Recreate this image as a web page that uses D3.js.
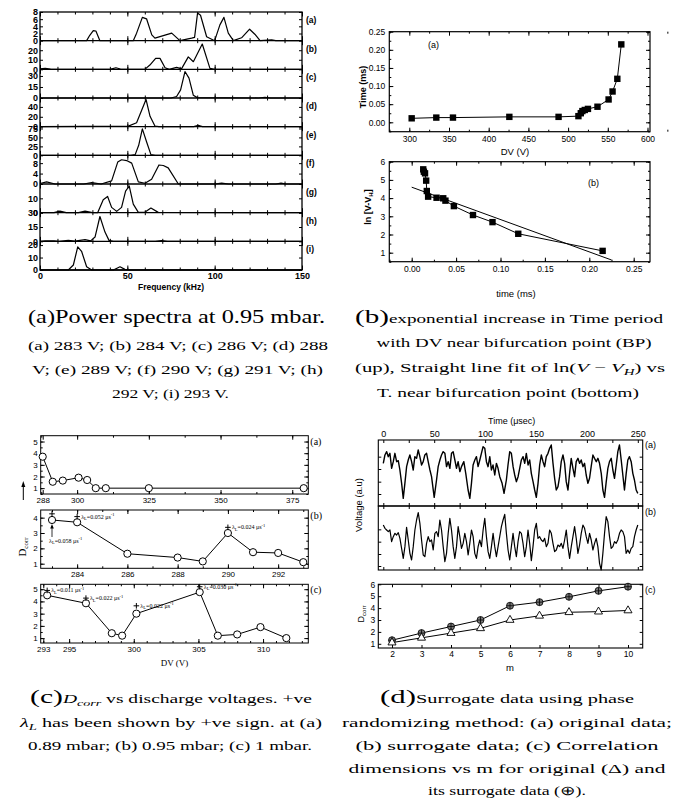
<!DOCTYPE html>
<html>
<head>
<meta charset="utf-8">
<script src="https://cdn.jsdelivr.net/npm/d3@7"></script>
<style>
body { margin: 0; background: #fff; }
svg { display: block; }
</style>
</head>
<body>
<div id="chart"></div>
<script>
// ---- panel (a): power spectra, [frequency kHz, amplitude] ----
const spectraNames = ['(a)', '(b)', '(c)', '(d)', '(e)', '(f)', '(g)', '(h)', '(i)'];
const spectraMax = [8, 30, 39, 58, 80, 11, 20, 30, 23];
const spectraTicks = [[0, 2, 4, 6, 8], [0, 10, 20], [0, 15, 30], [0, 20, 40], [0, 25, 50, 75], [0, 4, 8], [0, 10], [0, 15, 30], [0, 10, 20]];
const freqTicks = [0, 50, 100, 150];
const specA = [[0,0],[26.7,0],[28.5,1.5],[30.5,2.8],[32,2.7],[34.3,0],[53.4,0],[55.3,2.1],[58.6,6.5],[61,6.1],[64,1.6],[65.8,0.7],[75.4,2.1],[80.1,0],[86.8,0.7],[88.5,0.9],[90.2,7.7],[91.9,7.1],[95.4,1.1],[100,0],[103,4.4],[105.3,6.5],[107.8,2.1],[110.7,0],[115.4,0.8],[120,3.2],[123,1.8],[126,0],[132.6,0.2],[135,0],[150,0]];
const specB = [[0,0.5],[3,1],[6,0.3],[10,0],[40,0],[43.5,1.7],[46,0.3],[60,0],[62.9,4.5],[66.2,11.5],[68.7,11.5],[71.6,1.7],[74,0],[78.2,2],[81,0.5],[84.9,13],[87.8,8],[92.9,26.5],[97.3,1],[100,0],[150,0]];
const specC = [[0,0],[75,0],[78.2,2],[80.5,11],[83,36],[85.3,27],[87.8,3.6],[90,0.5],[125,0],[128.8,0.8],[132,0],[150,0]];
const specD = [[0,0],[50.6,1],[55.3,8],[60.7,55],[63,21],[65.8,1.3],[68,0],[88,0],[90.6,2.5],[93,0],[150,0]];
const specE = [[0,0],[52,0],[54.5,2],[56.5,28],[58.6,74],[61,38],[63.5,2],[66,0],[150,0]];
const specF = [[0,0.2],[3.8,0.8],[8.6,0],[25,0],[29.6,0.5],[35,0],[41,1.2],[44.5,8.4],[46.7,9.3],[49.6,9],[52.5,8],[56.3,0.8],[60.1,0.3],[63.9,1.8],[68.1,7.3],[70.6,7.1],[73.4,6.2],[79.2,0],[100,0],[104,0.3],[108,0],[135,0],[138,0.3],[141,0],[150,0]];
const specG = [[0,0],[8,0],[11.4,1.1],[15,0],[22,0],[25.8,1.1],[30,0],[33,0],[36.2,9],[38.7,11.3],[41,3.7],[43.9,0.9],[46.7,3.7],[49,15],[51.1,18.6],[53.4,6],[56.3,0.2],[60,0.3],[63.5,3.2],[67.7,0.2],[150,0]];
const specH = [[0,0],[3,0.5],[8,0.5],[11,0],[16.2,1],[20,0.3],[25.8,1.7],[29,0.5],[31.5,4.5],[34.3,26],[37.2,9.7],[39.5,1],[42,0],[66,0],[69.6,0.7],[73,0],[150,0]];
const specI = [[0,0],[16.2,0],[19.1,4],[21.6,18.5],[23.8,15],[26.7,2.6],[29.6,0],[42,0],[45.8,2.6],[48.6,0.5],[51,0],[150,0]];
const spectra = [specA, specB, specC, specD, specE, specF, specG, specH, specI];

// ---- panel (b): time period vs DV, ln(V-VH) vs time ----
const dvValues = [303, 334, 355, 426, 488, 513, 516, 518, 521, 525, 537, 551, 556, 562, 567];
const periodValues = [0.011, 0.013, 0.013, 0.015, 0.015, 0.017, 0.025, 0.031, 0.034, 0.037, 0.043, 0.063, 0.085, 0.12, 0.215];
const dvTicks = [300, 350, 400, 450, 500, 550, 600];
const periodTicks = [0, 0.05, 0.1, 0.15, 0.2, 0.25];
const lnTime = [0.013, 0.0137, 0.015, 0.0163, 0.017, 0.0185, 0.028, 0.0355, 0.038, 0.0475, 0.069, 0.091, 0.12, 0.215];
const lnValues = [5.58, 5.45, 5.36, 4.96, 4.39, 4.08, 4.02, 3.99, 3.86, 3.56, 3.07, 2.68, 2.04, 1.1];
const fitTime = [0, 0.225];
const fitLn = [4.6, 0.6];
const lnTicks = [1, 2, 3, 4, 5, 6];

// ---- panel (c): Dcorr vs discharge voltage ----
const dcorrAV = [288, 291.5, 295, 300.5, 303.5, 306.5, 310, 325, 379];
const dcorrA = [3.7, 1.55, 1.65, 1.9, 1.7, 1.0, 1.0, 1.0, 1.0];
const dcorrBV = [283, 284, 286, 288, 289, 290, 291, 292, 293];
const dcorrB = [3.85, 3.7, 1.65, 1.4, 1.15, 3.0, 1.75, 1.7, 1.1];
const dcorrCV = [293.3, 296.3, 298.3, 299.1, 300.2, 305.1, 306.5, 308, 309.8, 311.8];
const dcorrC = [4.5, 3.85, 1.4, 1.2, 3.0, 4.76, 1.2, 1.3, 1.9, 1.0];
const dvTicksA = [288, 300, 325, 350, 375];
const dvTicksB = [284, 286, 288, 290, 292];
const dvTicksC = [293, 295, 300, 305, 310];
// lyapunov marks: [voltage, height of +, label]
const lyapB = [[283, 4.25, '0.058'], [284, 4.07, '0.052'], [290, 3.37, '0.024']];
const lyapC = [[293.3, 4.9, '0.011'], [296.3, 4.27, '0.022'], [300.2, 3.64, '0.022'], [305.1, 5.2, '0.030']];

// ---- panel (d): original / surrogate signal, Dcorr vs m ----
const timeTicks = [0, 50, 100, 150, 200, 250];
const originalSignal = [[0,13],[1.6,15.5],[3.3,16.5],[4.9,15],[6.5,16],[8.2,11.5],[9.8,13.5],[11.4,16],[13.1,13.5],[14.7,13.8],[16.3,11],[18,7],[19.6,2.5],[21.2,7],[22.9,12],[24.5,14],[26.1,15.5],[27.8,13.5],[29.4,11],[31,15],[32.7,14.5],[34.3,17],[35.9,15],[37.6,12.5],[39.2,13.5],[40.8,15.5],[42.5,16],[44.1,13.5],[45.8,11],[47.4,9],[50,2.8],[52.3,8],[53.9,12],[55.6,14],[57.2,15.5],[58.8,16.5],[60.5,16],[62.1,12],[63.7,13.5],[65.4,11.5],[67,16],[68.6,16.5],[70.3,14],[71.9,11.5],[73.5,13.5],[75.2,10.5],[76.8,12],[79.1,13.5],[81,10],[83.3,5],[85,2.5],[86.6,7],[88.2,12.5],[89.9,14],[91.5,15],[93.1,12],[94.8,14],[98,18],[99.7,17.5],[101.3,13.5],[102.9,12],[104.6,15],[106.2,11],[107.8,12.5],[109.5,9.5],[111.1,13],[112.7,11.5],[114.4,9],[116.7,7],[118.6,4],[120.9,8],[122.5,12.5],[124.2,16.5],[125.8,16],[127.5,12],[129.1,9.5],[130.7,7.5],[132.4,9],[134,11.5],[135.6,14],[137.3,15],[138.9,13],[140.5,16],[142.2,12.5],[143.8,14],[145.4,10],[147.1,7.5],[148.7,5],[150.3,2.8],[152,7],[153.6,12.5],[155.2,15.5],[156.9,13.5],[158.5,12],[160.1,15],[161.8,16],[163.4,17.5],[165,18.5],[166.7,13],[168.3,8.5],[169.9,5],[171.6,6],[173.2,9],[174.8,13.5],[176.5,15.5],[178.1,13],[179.7,7.5],[181.4,5],[183,10],[184.6,14.5],[186.3,11.5],[187.9,9],[189.5,13.5],[191.2,14.5],[192.8,13],[194.4,14],[196.1,12],[197.7,13],[199.3,9.5],[201,7],[202.6,8.5],[204.2,12],[205.9,15.5],[207.5,14.5],[209.2,13.5],[210.8,14.5],[212.4,13],[214.1,10],[215.7,5],[217.3,2.8],[219,7.5],[220.6,11.5],[222.2,13.5],[223.9,14.5],[225.5,11],[227.1,8.5],[228.8,12.5],[230.4,16.5],[232,18.5],[233.7,14],[235.3,9.5],[236.9,5],[238.6,10],[240.2,14],[241.8,15],[243.5,13.5],[245.1,10],[246.7,8],[248.4,5],[250,4]];
const surrogateStep = 1.634; // us between read samples
const surrogateSignal = [13.5,12.5,12,11.5,12,8.5,10,11,10.5,11.2,9.5,6.5,3.5,7,12.8,9,5,3,7,12,15,17.2,14,9,4.5,4,8,10,8.5,9,6,11,11.5,10,15,12,7,2.5,5,11,15.5,12,7,3.5,7,13,10,6.5,8,11,8.5,4.5,8,12,10,5,3.5,7,9,7,12,15.5,10,5.5,3.5,7,11,7,4,7,10,13,15,16.7,11,6,3,7,11,7,4,8.5,11.5,11,8,4,7,12,8,2.8,7,12,14,9.5,10,9,8.5,9.5,7,8,12,11,8,5.5,6,7.5,7,8,6.5,9,12,7,3.5,7,10,13,9.5,5,7.5,11,13.5,12.5,10,8,11,9,6,8,9.5,7,2,0,5,11,16,14.5,10,6.5,7,8.5,8,9,11,12,11.5,10,5,6,5,6.5,7,10,12,13.5];
const mValues = [2, 3, 4, 5, 6, 7, 8, 9, 10];
const dcorrSurrogate = [1.3, 1.9, 2.45, 3.0, 4.2, 4.5, 4.95, 5.45, 5.8];
const dcorrOriginal = [1.1, 1.5, 1.9, 2.3, 3.0, 3.35, 3.65, 3.7, 3.8];
const dcorrMTicks = [1, 2, 3, 4, 5, 6];

const SANS = "'Liberation Sans', Arial, sans-serif";
const SERIF = "'Liberation Serif', 'Times New Roman', serif";
const intFmt = d3.format('d');

const svg = d3.select('#chart').append('svg')
    .attr('width', 678)
    .attr('height', 800);

function tidy(g, opt) {
    opt = opt || {};
    g.attr('font-family', null).attr('font-size', null);
    g.select('.domain').remove();
    g.selectAll('.tick line').attr('stroke', '#000').attr('stroke-width', opt.sw || 1);
    g.selectAll('.tick text')
        .attr('fill', '#000')
        .style('font-family', opt.font || SANS)
        .style('font-size', (opt.size || 9) + 'px')
        .style('font-weight', opt.weight || 'normal');
    return g;
}

function axis(parent, gen, tx, ty, opt) {
    const g = parent.append('g')
        .attr('transform', `translate(${tx},${ty})`)
        .call(gen);
    return tidy(g, opt);
}

function frame(parent, x0, y0, x1, y1, sw) {
    parent.append('rect')
        .attr('x', x0).attr('y', y0)
        .attr('width', x1 - x0).attr('height', y1 - y0)
        .attr('fill', 'none').attr('stroke', '#000').attr('stroke-width', sw || 1);
}

function caption(parent, cx, y, parts, size, width) {
    const t = parent.append('text')
        .attr('x', cx).attr('y', y)
        .attr('text-anchor', 'middle')
        .style('font-family', SERIF)
        .style('font-size', size + 'px')
        .attr('textLength', width)
        .attr('lengthAdjust', 'spacingAndGlyphs');
    parts.forEach(p => {
        const s = t.append('tspan').text(p.t);
        if (p.size) s.style('font-size', p.size + 'px');
        if (p.it) s.style('font-style', 'italic');
        if (p.dy) s.attr('dy', p.dy);
    });
    return t;
}

// lambda label: λL=0.052 μs-1
function lambdaLabel(parent, x, y, val) {
    const t = parent.append('text').attr('x', x).attr('y', y)
        .style('font-family', SERIF).style('font-size', '6px');
    t.append('tspan').text('λ');
    t.append('tspan').text('L').attr('dy', 1.5).style('font-size', '4.5px');
    t.append('tspan').text('=' + val + ' μs').attr('dy', -1.5);
    t.append('tspan').text('-1').attr('dy', -2.5).style('font-size', '4.5px');
}

function plusMark(parent, x, y, s) {
    parent.append('path')
        .attr('d', `M${x - s},${y}H${x + s}M${x},${y - s}V${y + s}`)
        .attr('stroke', '#000').attr('stroke-width', 1);
}

// =================== (a) power spectra ===================
const gA = svg.append('g');
const fx = d3.scaleLinear().domain([0, 150]).range([40, 302]);
const rowTop = 12, rowBot = 270, rowH = (rowBot - rowTop) / 9;
const minorFreq = d3.range(0, 151, 10);

spectra.forEach((s, i) => {
    const top = rowTop + i * rowH, bot = top + rowH;
    const fy = d3.scaleLinear().domain([0, spectraMax[i]]).range([bot, top]);
    gA.append('path').datum(s)
        .attr('fill', 'none').attr('stroke', '#000').attr('stroke-width', 1.2)
        .attr('stroke-linejoin', 'round')
        .attr('d', d3.line().x(d => fx(d[0])).y(d => fy(d[1])));
    axis(gA, d3.axisLeft(fy).tickValues(spectraTicks[i]).tickSize(-3).tickPadding(2).tickSizeOuter(0).tickFormat(intFmt), 40, 0,
        { size: 9, weight: 'bold' });
    axis(gA, d3.axisRight(fy).tickValues(spectraTicks[i]).tickSize(-3).tickSizeOuter(0).tickFormat(''), 302, 0);
    gA.append('text').attr('x', 306).attr('y', top + 11)
        .style('font-family', SANS).style('font-size', '8.5px').style('font-weight', 'bold')
        .text(spectraNames[i]);
    // ticks along the floor of each row, reaching into both rows
    axis(gA, d3.axisBottom(fx).tickValues(minorFreq).tickSize(-2.5).tickSizeOuter(0).tickFormat(''), 0, bot);
    axis(gA, d3.axisBottom(fx).tickValues(freqTicks).tickSize(-4.5).tickSizeOuter(0).tickFormat(''), 0, bot);
    if (i < 8) {
        axis(gA, d3.axisBottom(fx).tickValues(minorFreq).tickSize(2.5).tickSizeOuter(0).tickFormat(''), 0, bot);
        axis(gA, d3.axisBottom(fx).tickValues(freqTicks).tickSize(4.5).tickSizeOuter(0).tickFormat(''), 0, bot);
    }
    gA.append('line').attr('x1', 40).attr('x2', 302).attr('y1', bot).attr('y2', bot)
        .attr('stroke', '#000').attr('stroke-width', 1.3);
});
axis(gA, d3.axisBottom(fx).tickValues(minorFreq).tickSize(2.5).tickSizeOuter(0).tickFormat(''), 0, rowTop);
axis(gA, d3.axisBottom(fx).tickValues(freqTicks).tickSize(4.5).tickSizeOuter(0).tickFormat(''), 0, rowTop);
axis(gA, d3.axisBottom(fx).tickValues(freqTicks).tickSize(0).tickPadding(3), 0, rowBot, { size: 9, weight: 'bold' });
frame(gA, 40, rowTop, 302, rowBot, 1.3);
gA.append('text').attr('x', 171).attr('y', 290).attr('text-anchor', 'middle')
    .style('font-family', SANS).style('font-size', '8.5px').style('font-weight', 'bold')
    .text('Frequency (kHz)');

// =================== (b) time period / ln fit ===================
const gB = svg.append('g');
const bL = 389.3, bR = 650;
const dvX = d3.scaleLinear().domain([300, 600]).range([409.3, 647.5]);
const perY = d3.scaleLinear().domain([0, 0.25]).range([122.3, 31.7]);
const upTop = 31.7, upBot = 131.7;
const dvMinor = d3.range(275, 626, 25);
const perMinor = d3.range(-0.025, 0.251, 0.025);

axis(gB, d3.axisBottom(dvX).tickValues(dvMinor).tickSize(-2).tickFormat(''), 0, upBot);
axis(gB, d3.axisBottom(dvX).tickValues(dvTicks).tickSize(-4).tickPadding(4).tickFormat(intFmt), 0, upBot, { size: 8.5 });
axis(gB, d3.axisTop(dvX).tickValues(dvMinor).tickSize(-2).tickFormat(''), 0, upTop);
axis(gB, d3.axisTop(dvX).tickValues(dvTicks).tickSize(-4).tickFormat(''), 0, upTop);
axis(gB, d3.axisLeft(perY).tickValues(perMinor).tickSize(-2).tickFormat(''), bL, 0);
axis(gB, d3.axisLeft(perY).tickValues(periodTicks).tickSize(-4).tickPadding(4).tickFormat(d3.format('.2f')), bL, 0, { size: 8.5 });
axis(gB, d3.axisRight(perY).tickValues(perMinor).tickSize(-2).tickFormat(''), bR, 0);
axis(gB, d3.axisRight(perY).tickValues(periodTicks).tickSize(-4).tickFormat(''), bR, 0);
frame(gB, bL, upTop, bR, upBot, 1.2);

const upPts = dvValues.map((v, i) => [v, periodValues[i]]);
gB.append('path').datum(upPts)
    .attr('fill', 'none').attr('stroke', '#000').attr('stroke-width', 1)
    .attr('d', d3.line().x(d => dvX(d[0])).y(d => perY(d[1])));
gB.selectAll('rect.up').data(upPts).enter().append('rect').attr('class', 'up')
    .attr('x', d => dvX(d[0]) - 3.2).attr('y', d => perY(d[1]) - 3.2)
    .attr('width', 6.4).attr('height', 6.4).attr('fill', '#000');
gB.append('text').attr('x', 428).attr('y', 48)
    .style('font-family', SANS).style('font-size', '9px').text('(a)');
gB.append('text').attr('transform', 'translate(366,87) rotate(-90)').attr('text-anchor', 'middle')
    .style('font-family', SANS).style('font-size', '9px').style('font-weight', 'bold').text('Time (ms)');
gB.append('text').attr('x', 515).attr('y', 155).attr('text-anchor', 'middle')
    .style('font-family', SANS).style('font-size', '9.5px').text('DV (V)');

// lower plot
const loTop = 161.7, loBot = 261.7;
const tX = d3.scaleLinear().domain([0, 0.25]).range([411.7, 633.7]);
const lnY = d3.scaleLinear().domain([1, 6]).range([252.7, 161.7]);
const tMinor = d3.range(-0.025, 0.26, 0.025);
const lnMinor = d3.range(0.5, 6.01, 0.5);
axis(gB, d3.axisBottom(tX).tickValues(tMinor).tickSize(-2).tickFormat(''), 0, loBot);
axis(gB, d3.axisBottom(tX).tickValues(periodTicks).tickSize(-4).tickPadding(4).tickFormat(d3.format('.2f')), 0, loBot, { size: 8.5 });
axis(gB, d3.axisTop(tX).tickValues(tMinor).tickSize(-2).tickFormat(''), 0, loTop);
axis(gB, d3.axisTop(tX).tickValues(periodTicks).tickSize(-4).tickFormat(''), 0, loTop);
axis(gB, d3.axisLeft(lnY).tickValues(lnMinor).tickSize(-2).tickFormat(''), bL, 0);
axis(gB, d3.axisLeft(lnY).tickValues(lnTicks).tickSize(-4).tickPadding(4).tickFormat(intFmt), bL, 0, { size: 8.5 });
axis(gB, d3.axisRight(lnY).tickValues(lnMinor).tickSize(-2).tickFormat(''), bR, 0);
axis(gB, d3.axisRight(lnY).tickValues(lnTicks).tickSize(-4).tickFormat(''), bR, 0);
frame(gB, bL, loTop, bR, loBot, 1.2);

const loPts = lnTime.map((t, i) => [t, lnValues[i]]);
gB.append('path').datum(loPts)
    .attr('fill', 'none').attr('stroke', '#000').attr('stroke-width', 1)
    .attr('d', d3.line().x(d => tX(d[0])).y(d => lnY(d[1])));
gB.append('path').datum(fitTime.map((t, i) => [t, fitLn[i]]))
    .attr('fill', 'none').attr('stroke', '#000').attr('stroke-width', 1)
    .attr('d', d3.line().x(d => tX(d[0])).y(d => lnY(d[1])));
gB.selectAll('rect.lo').data(loPts).enter().append('rect').attr('class', 'lo')
    .attr('x', d => tX(d[0]) - 3.2).attr('y', d => lnY(d[1]) - 3.2)
    .attr('width', 6.4).attr('height', 6.4).attr('fill', '#000');
gB.append('text').attr('x', 588).attr('y', 186)
    .style('font-family', SANS).style('font-size', '9px').text('(b)');
const lnLab = gB.append('text').attr('transform', 'translate(371,207) rotate(-90)').attr('text-anchor', 'middle')
    .style('font-family', SANS).style('font-size', '9px').style('font-weight', 'bold');
lnLab.append('tspan').text('ln [V-V');
lnLab.append('tspan').text('H').attr('dy', 2).style('font-size', '6px');
lnLab.append('tspan').text(']').attr('dy', -2);
gB.append('text').attr('x', 516).attr('y', 297).attr('text-anchor', 'middle')
    .style('font-family', SANS).style('font-size', '9.5px').text('time (ms)');

// =================== (c) Dcorr vs DV ===================
const gC = svg.append('g');
const cL = 40.7, cR = 308.3;
const cRows = [
    { top: 435.7, bot: 494, xd: [287.3, 380.6], yd: [0.5, 5.5], xt: dvTicksA, xm: d3.range(287.5, 380, 12.5), yt: [1, 2, 3, 4, 5], v: dcorrAV, d: dcorrA, name: '(a)' },
    { top: 510, bot: 568.3, xd: [282.55, 293.2], yd: [0.7, 4.5], xt: dvTicksB, xm: d3.range(283, 293.1, 1), yt: [1, 2, 3, 4], v: dcorrBV, d: dcorrB, name: '(b)' },
    { top: 584.3, bot: 643, xd: [292.8, 313.5], yd: [0.6, 5.4], xt: dvTicksC, xm: d3.range(293, 313.1, 1), yt: [1, 2, 3, 4, 5], v: dcorrCV, d: dcorrC, name: '(c)' }
];
const cScales = cRows.map(r => {
    const x = d3.scaleLinear().domain(r.xd).range([cL, cR]);
    const y = d3.scaleLinear().domain(r.yd).range([r.bot, r.top]);
    const ym = d3.range(Math.ceil(r.yd[0] * 2) / 2, r.yd[1], 0.5);
    axis(gC, d3.axisBottom(x).tickValues(r.xm).tickSize(-2).tickFormat(''), 0, r.bot);
    axis(gC, d3.axisBottom(x).tickValues(r.xt).tickSize(-4).tickPadding(3).tickFormat(intFmt), 0, r.bot, { size: 8 });
    axis(gC, d3.axisTop(x).tickValues(r.xm).tickSize(-2).tickFormat(''), 0, r.top);
    axis(gC, d3.axisTop(x).tickValues(r.xt).tickSize(-4).tickFormat(''), 0, r.top);
    axis(gC, d3.axisLeft(y).tickValues(ym).tickSize(-2).tickFormat(''), cL, 0);
    axis(gC, d3.axisLeft(y).tickValues(r.yt).tickSize(-4).tickPadding(3).tickFormat(intFmt), cL, 0, { size: 8 });
    axis(gC, d3.axisRight(y).tickValues(ym).tickSize(-2).tickFormat(''), cR, 0);
    axis(gC, d3.axisRight(y).tickValues(r.yt).tickSize(-4).tickFormat(''), cR, 0);
    frame(gC, cL, r.top, cR, r.bot, 1);
    const pts = r.v.map((v, i) => [v, r.d[i]]);
    gC.append('path').datum(pts)
        .attr('fill', 'none').attr('stroke', '#000').attr('stroke-width', 1)
        .attr('d', d3.line().x(d => x(d[0])).y(d => y(d[1])));
    gC.selectAll(null).data(pts).enter().append('circle')
        .attr('cx', d => x(d[0])).attr('cy', d => y(d[1])).attr('r', 3.6)
        .attr('fill', '#fff').attr('stroke', '#000').attr('stroke-width', 1);
    gC.append('text').attr('x', cR + 2).attr('y', r.top + 9)
        .style('font-family', SERIF).style('font-size', '10px').text(r.name);
    return { x, y };
});
// lyapunov marks row (b)
const sb = cScales[1];
lyapB.forEach((m, i) => {
    plusMark(gC, sb.x(m[0]), sb.y(m[1]), 2.8);
});
lambdaLabel(gC, sb.x(284) + 4, sb.y(4.07) + 2, lyapB[1][2]);
lambdaLabel(gC, sb.x(290) + 4, sb.y(3.37) + 2, lyapB[2][2]);
lambdaLabel(gC, sb.x(283) - 3, 542.5, lyapB[0][2]);
gC.append('path').attr('d', `M${sb.x(283)},537V526`).attr('stroke', '#000').attr('stroke-width', 0.8);
gC.append('path').attr('d', `M${sb.x(283) - 1.8},528.5L${sb.x(283)},524L${sb.x(283) + 1.8},528.5Z`).attr('fill', '#000');
// row (c)
const sc = cScales[2];
lyapC.forEach(m => {
    plusMark(gC, sc.x(m[0]), sc.y(m[1]), 2.8);
    lambdaLabel(gC, sc.x(m[0]) + 4, sc.y(m[1]) + 2, m[2]);
});
// D_corr y label with arrow
const dl = gC.append('text').attr('transform', 'translate(26,547) rotate(-90)').attr('text-anchor', 'middle')
    .style('font-family', SERIF).style('font-size', '11px');
dl.append('tspan').text('D');
dl.append('tspan').text('corr').attr('dy', 2).style('font-size', '7px');
gC.append('path').attr('d', 'M23.3,500V485').attr('stroke', '#000').attr('stroke-width', 1);
gC.append('path').attr('d', 'M21.3,487L23.3,481L25.3,487Z').attr('fill', '#000');
gC.append('text').attr('x', 174.5).attr('y', 666).attr('text-anchor', 'middle')
    .style('font-family', SERIF).style('font-size', '9px').text('DV (V)');

// =================== (d) surrogate data ===================
const gD = svg.append('g');
const dL = 378.3, dR = 642.7;
const tx = d3.scaleLinear().domain([0, 250]).range([383.3, 637.8]);
const aTop = 440, aBot = 506, bBot = 570;
const yA = d3.scaleLinear().domain([0.2, 20]).range([aBot, aTop]);
const yB = d3.scaleLinear().domain([0, 19.2]).range([bBot, aBot]);
const tMinorD = d3.range(0, 251, 25);
const yTicksA = [3.8, 7.5, 11.3, 15];
const yTicksB = [1.2, 4.8, 8.5, 12.2];

axis(gD, d3.axisTop(tx).tickValues(tMinorD).tickSize(-3).tickFormat(''), 0, aTop);
axis(gD, d3.axisTop(tx).tickValues(timeTicks).tickSize(0).tickPadding(3.5).tickFormat(intFmt), 0, aTop, { size: 9 });
axis(gD, d3.axisBottom(tx).tickValues(tMinorD).tickSize(3).tickFormat(''), 0, aBot);
axis(gD, d3.axisBottom(tx).tickValues(tMinorD).tickSize(-3).tickFormat(''), 0, aBot);
axis(gD, d3.axisBottom(tx).tickValues(tMinorD).tickSize(-3).tickFormat(''), 0, bBot);
[[yA, yTicksA], [yB, yTicksB]].forEach(p => {
    axis(gD, d3.axisLeft(p[0]).tickValues(p[1]).tickSize(-3).tickFormat(''), dL, 0);
    axis(gD, d3.axisRight(p[0]).tickValues(p[1]).tickSize(-3).tickFormat(''), dR, 0);
});
frame(gD, dL, aTop, dR, aBot, 1.1);
frame(gD, dL, aBot, dR, bBot, 1.1);
gD.append('path').datum(originalSignal)
    .attr('fill', 'none').attr('stroke', '#000').attr('stroke-width', 1.4).attr('stroke-linejoin', 'round')
    .attr('d', d3.line().x(d => tx(d[0])).y(d => yA(d[1])));
gD.append('path').datum(surrogateSignal)
    .attr('fill', 'none').attr('stroke', '#000').attr('stroke-width', 1.2).attr('stroke-linejoin', 'round')
    .attr('d', d3.line().x((d, i) => tx(i * surrogateStep)).y(d => yB(d)));
gD.append('text').attr('x', 511.7).attr('y', 424).attr('text-anchor', 'middle')
    .style('font-family', SANS).style('font-size', '9px').text('Time (μsec)');
gD.append('text').attr('transform', 'translate(362,505) rotate(-90)').attr('text-anchor', 'middle')
    .style('font-family', SANS).style('font-size', '9.5px').text('Voltage (a.u)');
gD.append('text').attr('x', 645).attr('y', 448).style('font-family', SANS).style('font-size', '9px').text('(a)');
gD.append('text').attr('x', 645).attr('y', 515).style('font-family', SANS).style('font-size', '9px').text('(b)');

// Dcorr vs m
const mTop = 584.3, mBot = 648;
const mx = d3.scaleLinear().domain([2, 10]).range([392, 628]);
const my = d3.scaleLinear().domain([1, 6]).range([643.8, 584.3]);
axis(gD, d3.axisBottom(mx).tickValues(mValues).tickSize(-3).tickPadding(3).tickFormat(intFmt), 0, mBot, { size: 8.5 });
axis(gD, d3.axisTop(mx).tickValues(mValues).tickSize(-3).tickFormat(''), 0, mTop);
axis(gD, d3.axisLeft(my).tickValues(dcorrMTicks).tickSize(-3).tickPadding(3).tickFormat(intFmt), dL, 0, { size: 8.5 });
axis(gD, d3.axisRight(my).tickValues(dcorrMTicks).tickSize(-3).tickFormat(''), dR, 0);
frame(gD, dL, mTop, dR, mBot, 1.1);
const surPts = mValues.map((m, i) => [m, dcorrSurrogate[i]]);
const oriPts = mValues.map((m, i) => [m, dcorrOriginal[i]]);
[surPts, oriPts].forEach(pts => {
    gD.append('path').datum(pts)
        .attr('fill', 'none').attr('stroke', '#000').attr('stroke-width', 1)
        .attr('d', d3.line().x(d => mx(d[0])).y(d => my(d[1])));
});
const sp = gD.selectAll('g.sp').data(surPts).enter().append('g').attr('class', 'sp')
    .attr('transform', d => `translate(${mx(d[0])},${my(d[1])})`);
sp.append('circle').attr('r', 3.5).attr('fill', '#777').attr('stroke', '#000').attr('stroke-width', 0.8);
sp.append('path').attr('d', 'M-3.5,0H3.5M0,-3.5V3.5').attr('stroke', '#000').attr('stroke-width', 0.8);
gD.selectAll('path.tri').data(oriPts).enter().append('path').attr('class', 'tri')
    .attr('transform', d => `translate(${mx(d[0])},${my(d[1])})`)
    .attr('d', d3.symbol(d3.symbolTriangle, 28))
    .attr('fill', '#fff').attr('stroke', '#000').attr('stroke-width', 0.9);
gD.append('text').attr('x', 645).attr('y', 593).style('font-family', SANS).style('font-size', '9px').text('(c)');
const ml = gD.append('text').attr('transform', 'translate(364,614) rotate(-90)').attr('text-anchor', 'middle')
    .style('font-family', SANS).style('font-size', '9px');
ml.append('tspan').text('D');
ml.append('tspan').text('corr').attr('dy', 2).style('font-size', '6px');
gD.append('text').attr('x', 510).attr('y', 671).attr('text-anchor', 'middle')
    .style('font-family', SANS).style('font-size', '9.5px').text('m');

// =================== captions ===================
const gT = svg.append('g').attr('fill', '#000');
caption(gT, 176.5, 323, [{ t: '(a)Power spectra at 0.95 mbar.' }], 19, 297);
caption(gT, 178, 350, [{ t: '(a) 283 V; (b) 284 V; (c) 286 V; (d) 288' }], 13, 300);
caption(gT, 177.5, 374, [{ t: 'V; (e) 289 V; (f) 290 V; (g) 291 V; (h)' }], 13, 291);
caption(gT, 170.5, 398, [{ t: '292 V; (i) 293 V.' }], 13, 117);

caption(gT, 509, 323, [{ t: '(b)', size: 19 }, { t: 'exponential increase in Time period' }], 12.5, 308);
caption(gT, 514, 347, [{ t: 'with DV near bifurcation point (BP)' }], 12.5, 275);
caption(gT, 510, 372, [{ t: '(up), Straight line fit of ln(' }, { t: 'V', it: true }, { t: ' − ' }, { t: 'V', it: true },
    { t: 'H', it: true, size: 9, dy: 3 }, { t: ') vs', dy: -3 }], 12.5, 310);
caption(gT, 508, 397, [{ t: 'T. near bifurcation point (bottom)' }], 12.5, 262);

caption(gT, 171, 703, [{ t: '(c)', size: 19 }, { t: 'D', it: true }, { t: 'corr', it: true, size: 9, dy: 3 },
    { t: ' vs discharge voltages. +ve', dy: -3 }], 12.5, 282);
caption(gT, 171, 727, [{ t: 'λ', it: true }, { t: 'L', it: true, size: 9, dy: 3 }, { t: ' has been shown by +ve sign. at (a)', dy: -3 }], 12.5, 302);
caption(gT, 170, 750, [{ t: '0.89 mbar; (b) 0.95 mbar; (c) 1 mbar.' }], 12.5, 284);

caption(gT, 507, 703, [{ t: '(d)', size: 19 }, { t: 'Surrogate data using phase' }], 12.5, 254);
caption(gT, 507, 727, [{ t: 'randomizing method: (a) original data;' }], 12.5, 330);
caption(gT, 507, 750, [{ t: '(b) surrogate data; (c) Correlation' }], 12.5, 303);
caption(gT, 507, 773, [{ t: 'dimensions vs m for original (Δ) and' }], 12.5, 317);
caption(gT, 507, 795, [{ t: 'its surrogate data (⊕).' }], 12.5, 158);
</script>
</body>
</html>
